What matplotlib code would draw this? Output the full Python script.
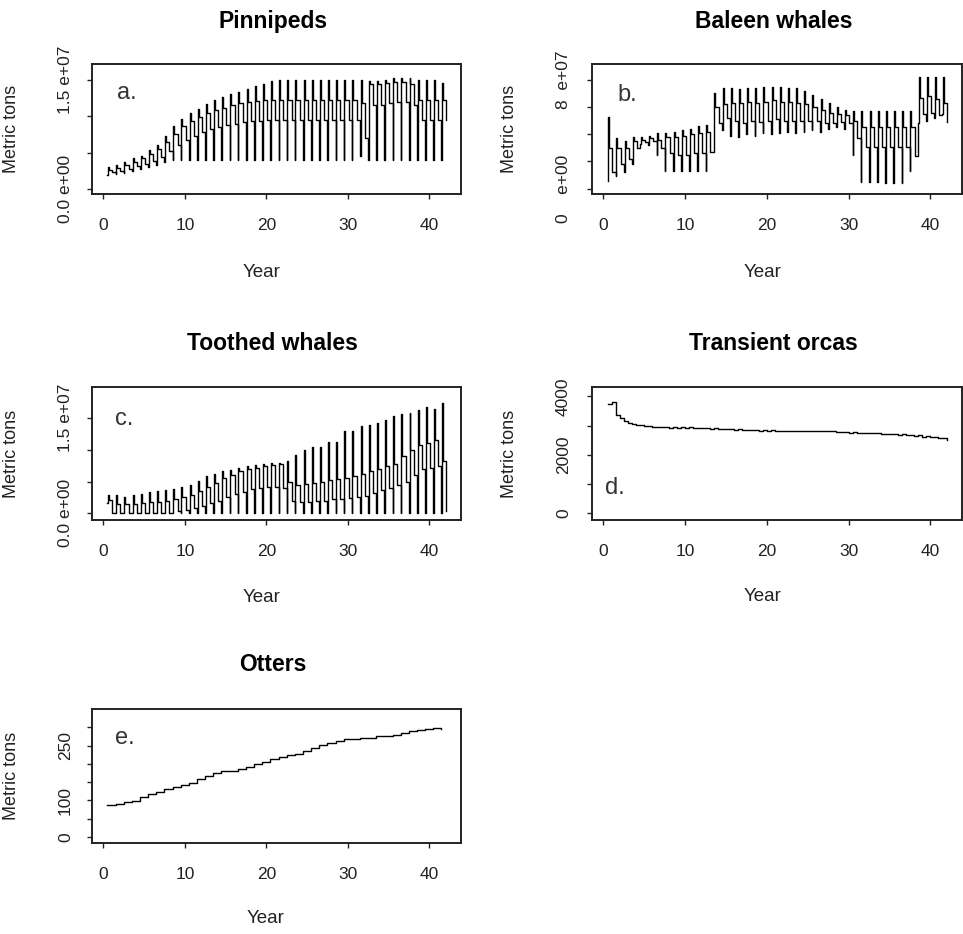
import matplotlib
matplotlib.use("Agg")
import matplotlib.pyplot as plt
import numpy as np

plt.rcParams['font.family'] = ['Liberation Sans', 'DejaVu Sans']

# model years: one seasonal cycle per year, starting at 0.5
START = 0.5

# Pinnipeds, 1e6 metric tons (per-year low, peak and the two mid-season levels)
pin_low = [1.9, 2.0, 2.2, 2.5, 2.7, 3.0, 3.3, 3.7, 4.0, 4.0,
           4.0, 4.0, 4.0, 4.0, 4.0, 4.0, 4.0, 4.0, 4.0, 4.0,
           4.0, 4.0, 4.0, 4.0, 4.0, 4.0, 4.0, 4.0, 4.0, 4.0,
           4.0, 4.5, 4.0, 4.0, 4.0, 4.0, 4.0, 4.0, 4.0, 4.0,
           4.0, 4.0]
pin_high = [3.0, 3.3, 3.7, 4.2, 4.6, 5.4, 6.0, 7.3, 8.6, 9.6,
            10.4, 11.0, 11.7, 12.2, 12.7, 13.1, 13.4, 13.8, 14.1, 14.5,
            14.8, 15.0, 15.0, 15.0, 15.0, 15.0, 15.0, 15.0, 15.0, 15.0,
            15.0, 15.0, 14.8, 14.8, 15.0, 15.2, 15.2, 15.2, 15.0, 15.0,
            15.0, 14.6]
pin_mid_hi = [2.6, 2.9, 3.3, 3.7, 4.2, 4.8, 5.5, 6.5, 7.6, 8.6,
              9.3, 9.9, 10.4, 10.8, 11.2, 11.5, 11.8, 12.0, 12.1, 12.2,
              12.2, 12.2, 12.2, 12.2, 12.2, 12.2, 12.2, 12.2, 12.2, 12.2,
              12.2, 11.8, 14.5, 14.5, 14.6, 14.7, 14.7, 14.5, 12.2, 12.2,
              12.2, 12.2]
pin_mid_lo = [2.3, 2.5, 2.8, 3.1, 3.4, 3.8, 4.4, 5.2, 6.0, 6.8,
              7.3, 7.8, 8.2, 8.5, 8.8, 9.0, 9.2, 9.3, 9.4, 9.5,
              9.5, 9.5, 9.5, 9.5, 9.5, 9.5, 9.5, 9.5, 9.5, 9.5,
              9.5, 7.0, 11.5, 11.5, 11.8, 12.0, 12.0, 11.5, 9.5, 9.5,
              9.5, 9.5]

# Baleen whales, 1e7 metric tons
bal_low = [0.55, 0.9, 1.2, 1.8, 3.3, 3.2, 2.5, 1.3, 1.3, 1.3,
           1.3, 1.3, 1.3, 2.8, 4.3, 3.9, 3.8, 4.0, 3.9, 4.1,
           4.0, 4.1, 4.2, 4.1, 4.2, 4.3, 4.2, 4.4, 4.5, 4.4,
           2.5, 0.5, 0.5, 0.5, 0.45, 0.4, 0.4, 1.3, 4.8, 5.0,
           5.2, 5.5]
bal_high = [5.3, 3.7, 3.5, 3.8, 3.8, 3.9, 4.1, 4.1, 4.2, 4.3,
            4.4, 4.6, 4.7, 7.0, 7.4, 7.4, 7.3, 7.4, 7.4, 7.5,
            7.5, 7.5, 7.4, 7.4, 7.2, 6.9, 6.6, 6.3, 6.0, 5.8,
            5.7, 5.7, 5.7, 5.7, 5.7, 5.7, 5.7, 5.7, 8.2, 8.2,
            8.2, 8.2]
bal_mid_hi = [3.0, 3.0, 3.0, 3.5, 3.6, 3.7, 3.6, 3.8, 3.8, 3.9,
              4.0, 4.1, 4.2, 6.0, 6.2, 6.3, 6.3, 6.4, 6.3, 6.4,
              6.5, 6.4, 6.4, 6.3, 6.2, 6.0, 5.8, 5.6, 5.5, 5.4,
              5.0, 4.5, 4.5, 4.5, 4.5, 4.5, 4.5, 4.5, 6.7, 6.8,
              6.6, 6.3]
bal_mid_lo = [1.2, 1.8, 2.2, 3.0, 3.4, 3.5, 3.0, 2.6, 2.5, 2.5,
              2.6, 2.6, 2.7, 4.8, 5.2, 5.0, 4.8, 5.0, 4.9, 5.0,
              5.1, 5.0, 5.0, 5.0, 5.0, 5.0, 4.8, 4.8, 4.9, 4.8,
              3.7, 3.1, 3.1, 3.1, 3.1, 3.1, 3.1, 2.4, 5.5, 5.6,
              5.4, 4.9]

# Toothed whales, 1e6 metric tons
tw_low = [1.6, 0.0, 0.0, 0.0, 0.0, 0.0, 0.0, 0.0, 0.0, 0.0,
          0.0, 0.0, 0.0, 0.0, 0.0, 0.0, 0.0, 0.0, 0.0, 0.0,
          0.0, 0.0, 0.0, 0.0, 0.0, 0.0, 0.0, 0.0, 0.0, 0.0,
          0.0, 0.0, 0.0, 0.0, 0.0, 0.0, 0.0, 0.0, 0.0, 0.0,
          0.0, 0.0]
tw_high = [2.9, 2.9, 2.6, 2.9, 3.1, 3.4, 3.5, 3.7, 3.9, 4.2,
           4.5, 5.1, 5.8, 6.2, 6.6, 6.8, 7.1, 7.4, 7.6, 7.8,
           8.0, 8.0, 8.2, 9.2, 10.0, 10.5, 10.5, 11.3, 11.3, 12.9,
           12.9, 13.7, 13.9, 14.2, 14.7, 15.3, 15.6, 15.8, 16.3, 16.8,
           16.5, 17.4]
tw_mid_hi = [2.1, 1.4, 1.5, 1.5, 1.6, 1.7, 1.8, 2.0, 2.2, 2.5,
             2.9, 3.5, 4.2, 4.8, 5.5, 6.0, 6.6, 7.0, 7.2, 7.5,
             7.6, 7.7, 5.0, 4.5, 4.6, 4.8, 5.0, 5.2, 5.4, 5.6,
             5.8, 6.2, 6.6, 7.0, 7.4, 7.8, 9.0, 10.0, 10.8, 11.0,
             11.5, 8.2]
tw_mid_lo = [0.0, 0.0, 0.0, 0.0, 0.0, 0.0, 0.0, 0.0, 0.3, 0.5,
             0.8, 1.2, 1.6, 2.0, 2.6, 3.0, 3.4, 3.8, 4.0, 4.2,
             4.2, 4.0, 2.0, 1.8, 1.8, 2.0, 2.0, 2.2, 2.2, 2.4,
             2.6, 2.8, 3.2, 3.6, 4.0, 4.4, 5.0, 6.0, 7.0, 7.2,
             7.5, 0.3]

# Transient orcas, metric tons (first and second half of each year)
orca_first = [3720, 3370, 3140, 3060, 3010, 2970, 2960, 2960, 2950, 2950,
              2940, 2930, 2910, 2900, 2890, 2880, 2870, 2860, 2850, 2840,
              2840, 2830, 2830, 2800, 2800, 2800, 2800, 2800, 2790, 2780,
              2780, 2760, 2750, 2740, 2720, 2710, 2700, 2690, 2660, 2630,
              2600, 2570]
orca_second = [3790, 3260, 3090, 3030, 2990, 2950, 2940, 2930, 2930, 2930,
               2920, 2900, 2890, 2880, 2870, 2860, 2850, 2840, 2830, 2820,
               2820, 2810, 2800, 2800, 2800, 2800, 2800, 2800, 2770, 2760,
               2750, 2740, 2730, 2710, 2700, 2690, 2670, 2650, 2620, 2600,
               2570, 2520]

# Otters, metric tons
otters = [87, 91, 96, 99, 109, 117, 124, 130, 136, 141,
          149, 158, 166, 174, 181, 181, 185, 191, 200, 206,
          212, 220, 223, 226, 236, 244, 252, 258, 262, 267,
          269, 270, 272, 275, 277, 279, 285, 289, 292, 294,
          298, 296]


def seasonal(low, high, mid_hi, mid_lo, scale):
    """Lay each year's four levels out as a step trace."""
    t, v = [], []
    for i in range(len(low)):
        y0 = START + i
        t += [y0, y0 + 0.08, y0 + 0.2, y0 + 0.6]
        v += [low[i], high[i], mid_hi[i], mid_lo[i]]
    return np.array(t), np.array(v) * scale


def half_years(first, second):
    t, v = [], []
    for i in range(len(first)):
        t += [START + i, START + i + 0.5]
        v += [first[i], second[i]]
    return np.array(t), np.array(v)


def style_axes(ax, title, letter, letter_xy, yticks, ylabels, ylim,
               ylab_x, year_xy, ypad):
    ax.set_xlim(-1.4, 43.9)
    ax.set_ylim(*ylim)
    ax.set_xticks([0, 10, 20, 30, 40])
    ax.set_yticks(yticks)
    ax.set_yticklabels(ylabels, rotation=90, va='center')
    ax.tick_params(axis='both', length=3.6, width=1.0, labelsize=12.5,
                   color='#222222', labelcolor='#222222')
    ax.tick_params(axis='x', pad=14)
    ax.tick_params(axis='y', pad=ypad)
    for s in ax.spines.values():
        s.set_linewidth(1.4)
        s.set_color('#222222')
    ax.text(0.49, 1.33, title, transform=ax.transAxes, ha='center',
            va='center', fontsize=16.5, fontweight='bold')
    ax.text(letter_xy[0], letter_xy[1], letter, transform=ax.transAxes,
            ha='left', va='center', fontsize=17, color='#333333')
    ax.set_ylabel('Metric tons', fontsize=13, color='#222222')
    ax.yaxis.set_label_coords(ylab_x, 0.5)
    ax.set_xlabel('Year', fontsize=13.5, color='#222222')
    ax.xaxis.set_label_coords(year_xy[0], year_xy[1])
    ax.xaxis.label.set_va('center')


fig = plt.figure(figsize=(9.63, 9.34), dpi=100)
ax_a = fig.add_axes([0.0955, 0.7923, 0.3832, 0.1392])
ax_b = fig.add_axes([0.6148, 0.7923, 0.3842, 0.1392])
ax_c = fig.add_axes([0.0955, 0.4433, 0.3832, 0.1424])
ax_d = fig.add_axes([0.6148, 0.4433, 0.3842, 0.1424])
ax_e = fig.add_axes([0.0955, 0.0974, 0.3832, 0.1435])

lw = 1.0

t, v = seasonal(pin_low, pin_high, pin_mid_hi, pin_mid_lo, 1e6)
ax_a.plot(t, v, color='black', lw=lw, drawstyle='steps-post')
style_axes(ax_a, 'Pinnipeds', 'a.', (0.068, 0.775),
           [0, 5e6, 1e7, 1.5e7], ['0.0 e+00', '', '', '1.5 e+07'],
           (-0.686e6, 17.19e6), -0.195, (0.46, -0.603), 10)

t, v = seasonal(bal_low, bal_high, bal_mid_hi, bal_mid_lo, 1e7)
ax_b.plot(t, v, color='black', lw=lw, drawstyle='steps-post')
style_axes(ax_b, 'Baleen whales', 'b.', (0.068, 0.764),
           [0, 2e7, 4e7, 6e7, 8e7], ['0    e+00', '', '', '', '8  e+07'],
           (-0.39e7, 9.17e7), -0.2, (0.462, -0.603), 11.5)

t, v = seasonal(tw_low, tw_high, tw_mid_hi, tw_mid_lo, 1e6)
ax_c.plot(t, v, color='black', lw=lw, drawstyle='steps-post')
style_axes(ax_c, 'Toothed whales', 'c.', (0.062, 0.756),
           [0, 5e6, 1e7, 1.5e7], ['0.0 e+00', '', '', '1.5 e+07'],
           (-1.05e6, 19.9e6), -0.195, (0.46, -0.586), 10)

t, v = half_years(orca_first, orca_second)
ax_d.plot(t, v, color='black', lw=lw, drawstyle='steps-post')
style_axes(ax_d, 'Transient orcas', 'd.', (0.036, 0.24),
           [0, 1000, 2000, 3000, 4000], ['0', '', '2000', '', '4000'],
           (-229, 4320), -0.2, (0.462, -0.576), 11.5)

years = START + np.arange(len(otters))
ax_e.plot(years, otters, color='black', lw=lw, drawstyle='steps-post')
style_axes(ax_e, 'Otters', 'e.', (0.062, 0.78),
           [0, 50, 100, 150, 200, 250, 300],
           ['0', '', '100', '', '', '250', ''],
           (-16.5, 350), -0.195, (0.471, -0.56), 10)

fig.savefig('out.png', dpi=100, facecolor='white')
